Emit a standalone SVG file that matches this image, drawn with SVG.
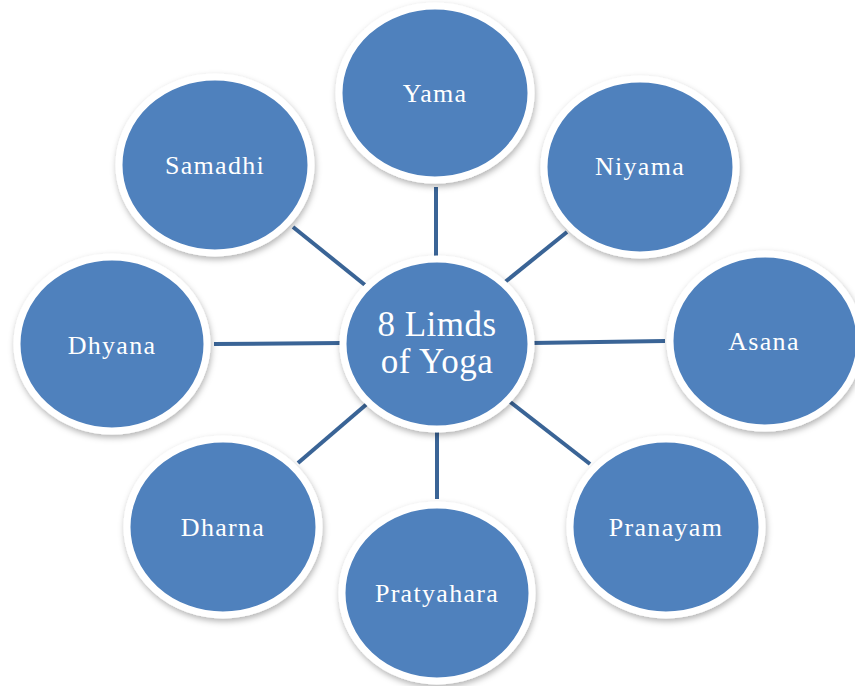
<svg xmlns="http://www.w3.org/2000/svg" width="855" height="686" viewBox="0 0 855 686">
<defs>
<filter id="sh" x="-20%" y="-20%" width="140%" height="140%">
<feDropShadow dx="1" dy="3" stdDeviation="3" flood-color="#000" flood-opacity="0.3"/>
</filter>
<style>
.n ellipse{fill:#4F81BD;stroke:#fff;stroke-width:7;filter:url(#sh)}
.n text{fill:#fff;font-family:"Liberation Serif","DejaVu Serif",serif;font-size:26px;letter-spacing:1.3px;text-anchor:middle;dominant-baseline:central}
.n text.big{font-size:35px;letter-spacing:0.5px}
.c line{stroke:#3A6496;stroke-width:4;stroke-linecap:butt}
</style>
</defs>
<rect width="855" height="686" fill="#fff"/>
<g class="c" id="connectors">
<line x1="436" y1="187" x2="436" y2="256"/>
<line x1="505" y1="282" x2="567" y2="232"/>
<line x1="532" y1="343" x2="665" y2="341"/>
<line x1="509" y1="401" x2="590" y2="464"/>
<line x1="437" y1="431" x2="437" y2="499"/>
<line x1="368" y1="403" x2="298" y2="463"/>
<line x1="214" y1="344" x2="342" y2="343"/>
<line x1="293" y1="227" x2="365" y2="285"/>
</g>
<g class="n" id="yama"><ellipse cx="435" cy="93" rx="96" ry="87"/><text x="435" y="93">Yama</text></g>
<g class="n" id="niyama"><ellipse cx="640" cy="167" rx="96" ry="88"/><text x="640" y="166">Niyama</text></g>
<g class="n" id="asana"><ellipse cx="765" cy="341" rx="95" ry="87"/><text x="764" y="341">Asana</text></g>
<g class="n" id="pranayam"><ellipse cx="666" cy="527" rx="96" ry="88"/><text x="666" y="527">Pranayam</text></g>
<g class="n" id="pratyahara"><ellipse cx="437" cy="593" rx="95" ry="88"/><text x="437" y="593">Pratyahara</text></g>
<g class="n" id="dharna"><ellipse cx="223" cy="527" rx="96" ry="88"/><text x="223" y="527">Dharna</text></g>
<g class="n" id="dhyana"><ellipse cx="112" cy="344" rx="95" ry="87"/><text x="112" y="345">Dhyana</text></g>
<g class="n" id="samadhi"><ellipse cx="215" cy="165" rx="96" ry="88"/><text x="215" y="165">Samadhi</text></g>
<g class="n" id="center"><ellipse cx="437" cy="344" rx="94" ry="85"/><text class="big" x="437" y="324">8 Limds</text><text class="big" x="437" y="361">of Yoga</text></g>
</svg>
